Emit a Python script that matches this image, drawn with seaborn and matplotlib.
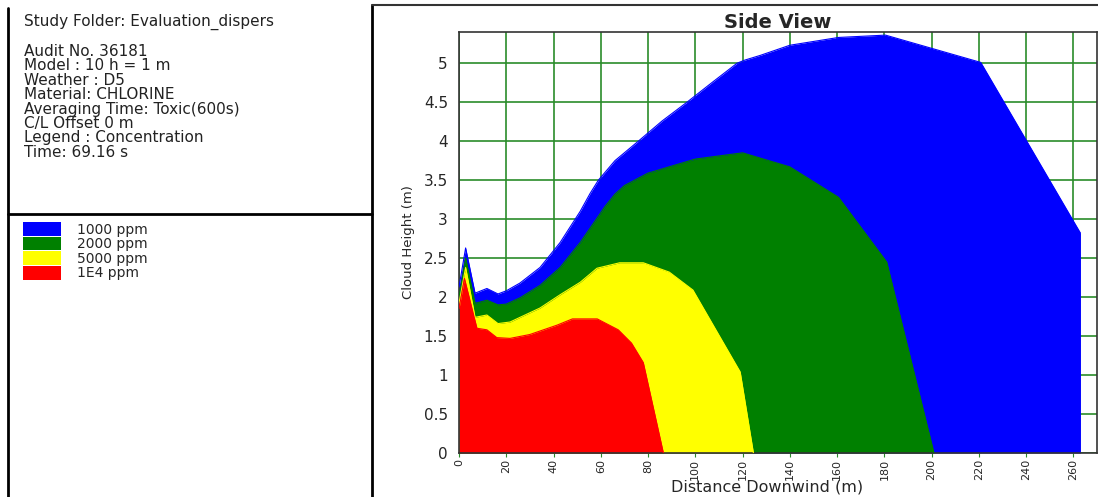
import numpy as np
import pandas as pd
import seaborn as sns
import matplotlib.pyplot as plt
from matplotlib.lines import Line2D

# cloud top height (m) vs distance downwind (m), one series per concentration level
levels = ["1000 ppm", "2000 ppm", "5000 ppm", "1E4 ppm"]
colors = ["#0000ff", "#008000", "#ffff00", "#ff0000"]

x_1000 = [0, 2.8, 6.8, 11.8, 16.5, 20, 25.8, 34.3, 42.8, 51.3, 55.5, 59, 66, 75.9, 86, 96.5, 107, 117.7, 121, 127.5, 140, 160.6, 180.5, 220.8, 263]
y_1000 = [2.13, 2.63, 2.05, 2.11, 2.04, 2.08, 2.18, 2.38, 2.70, 3.10, 3.33, 3.50, 3.75, 4.0, 4.26, 4.5, 4.75, 5.0, 5.04, 5.10, 5.23, 5.33, 5.36, 5.01, 2.82]

x_2000 = [0, 2.8, 6.8, 11.8, 16.5, 20, 25.8, 34.3, 42.8, 51.3, 57, 62, 66, 70, 80, 100, 120, 140, 160.6, 181, 201]
y_2000 = [2.0, 2.5, 1.92, 1.96, 1.90, 1.91, 1.99, 2.15, 2.38, 2.70, 2.95, 3.17, 3.32, 3.43, 3.59, 3.77, 3.85, 3.67, 3.28, 2.45, 0]

x_5000 = [0, 2.8, 6.8, 11.8, 16.5, 21.6, 34.3, 42.8, 51.3, 58.4, 68, 78, 89, 99, 119, 124.6]
y_5000 = [1.92, 2.38, 1.74, 1.77, 1.66, 1.68, 1.86, 2.03, 2.19, 2.37, 2.44, 2.44, 2.32, 2.09, 1.04, 0]

x_1e4 = [0, 2.3, 7.6, 11.8, 16, 21.6, 30, 41.5, 48, 58.5, 67.4, 73, 78, 86.5]
y_1e4 = [1.85, 2.24, 1.60, 1.58, 1.48, 1.47, 1.52, 1.64, 1.72, 1.72, 1.58, 1.41, 1.16, 0]

info_lines = ["Audit No. 36181", "Model : 10 h = 1 m", "Weather : D5", "Material: CHLORINE",
              "Averaging Time: Toxic(600s)", "C/L Offset 0 m", "Legend : Concentration", "Time: 69.16 s"]

series = [(x_1000, y_1000), (x_2000, y_2000), (x_5000, y_5000), (x_1e4, y_1e4)]
df = pd.concat([pd.DataFrame({"dist": xs, "height": ys, "level": lv})
                for (xs, ys), lv in zip(series, levels)], ignore_index=True)

sns.set_style("white")
plt.rcParams["font.family"] = ["DejaVu Sans"]

W, H = 1098, 497
fig = plt.figure(figsize=(W / 100, H / 100), dpi=100)
ax = fig.add_axes([459 / W, (H - 453) / H, (1097 - 459) / W, (453 - 32) / H])

handles = []
for lv, col in zip(levels, colors):
    d = df[df.level == lv]
    h = ax.fill_between(d.dist, 0, d.height, color=col, lw=0, zorder=2, label=lv)
    sns.lineplot(data=d, x="dist", y="height", color=col, lw=0.8, ax=ax, zorder=3, legend=False)
    handles.append(h)

ax.set_xlim(0, 270)
ax.set_ylim(0, 5.4)
ax.set_xticks(np.arange(0, 261, 20))
ax.set_yticks(np.arange(0, 5.01, 0.5))
ax.set_yticklabels(["0", "0.5", "1", "1.5", "2", "2.5", "3", "3.5", "4", "4.5", "5"])
ax.grid(True, color="#2a8c2a", lw=1.2, zorder=0)
ax.set_axisbelow(True)
ax.tick_params(axis="x", rotation=90, labelsize=8, length=3, color="#2a8c2a", pad=1, bottom=True)
ax.tick_params(axis="y", labelsize=11, length=0, pad=8, left=True)
for s in ax.spines.values():
    s.set_color("#333333")
    s.set_linewidth(1.2)

ax.set_xlabel("Distance Downwind (m)", fontsize=11.5)
ax.xaxis.set_label_coords(0.483, -0.062)
ax.set_ylabel("Cloud Height (m)", fontsize=9.5, labelpad=6)
ax.set_title("Side View", fontsize=14, fontweight="bold", pad=3)

# left panel frames
def px_line(x0, y0, x1, y1, lw=2, color="black"):
    fig.add_artist(Line2D([x0 / W, x1 / W], [1 - y0 / H, 1 - y1 / H], color=color, lw=lw,
                          transform=fig.transFigure))

px_line(8, 8, 8, 497)
px_line(372, 5, 372, 497)
px_line(8, 214, 372, 214)
px_line(372, 5, 1098, 5, lw=1.5, color="#333333")

fig.text(24 / W, 1 - 20 / H, "Study Folder: Evaluation_dispers", fontsize=11,
         va="center_baseline", color="#222222")
for i, t in enumerate(info_lines):
    fig.text(24 / W, 1 - (50 + 14.4 * i) / H, t, fontsize=11, va="center_baseline", color="#222222")

fig.legend(handles, levels, loc="upper left", bbox_to_anchor=(23 / W, 1 - 222 / H),
           frameon=False, borderpad=0, borderaxespad=0, handlelength=2.7, handleheight=1.15,
           labelspacing=0, handletextpad=1.2, fontsize=10)

fig.savefig("out.png", dpi=100)
